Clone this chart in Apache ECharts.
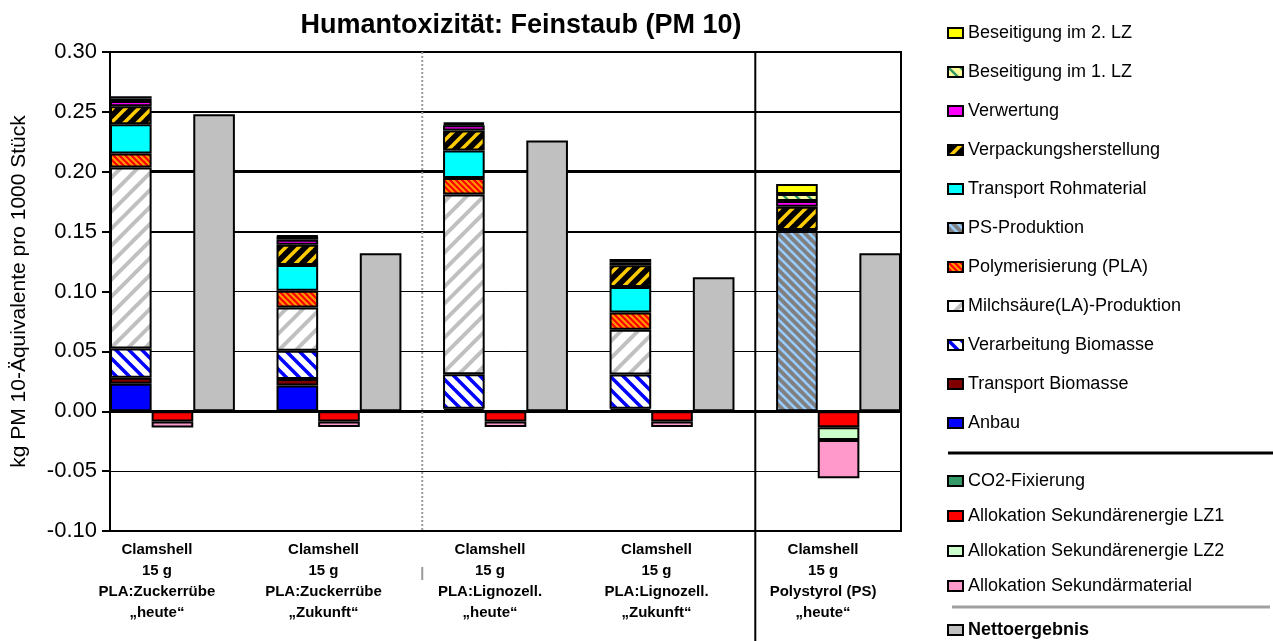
<!DOCTYPE html>
<html>
<head>
<meta charset="utf-8">
<script src="https://cdn.jsdelivr.net/npm/echarts@6/dist/echarts.min.js"></script>
<style>html,body{margin:0;padding:0;background:#fff}#c{width:1273px;height:641px}</style>
</head>
<body>
<div id="c"></div>
<script>
// ---- data ----
const groupLabels = [
  'Clamshell\n15 g\nPLA:Zuckerrübe\n„heute“',
  'Clamshell\n15 g\nPLA:Zuckerrübe\n„Zukunft“',
  'Clamshell\n15 g\nPLA:Lignozell.\n„heute“',
  'Clamshell\n15 g\nPLA:Lignozell.\n„Zukunft“',
  'Clamshell\n15 g\nPolystyrol (PS)\n„heute“'
];
const yTicks = [-0.10, -0.05, 0.00, 0.05, 0.10, 0.15, 0.20, 0.25, 0.30];

const anbau            = [0.023, 0.0215, 0.0005, 0.0005, 0];
const transportBiomasse= [0.005, 0.0055, 0.0015, 0.0015, 0];
const verarbeitung     = [0.0245, 0.0236, 0.029, 0.0286, 0];
const milchsaeure      = [0.151, 0.036, 0.150, 0.0374, 0];
const polymerisierung  = [0.0117, 0.014, 0.0138, 0.0145, 0];
const psProduktion     = [0, 0, 0, 0, 0.1505];
const transportRoh     = [0.0245, 0.0215, 0.023, 0.0212, 0.0008];
const verpackung       = [0.015, 0.017, 0.0166, 0.0183, 0.0195];
const verwertung       = [0.0044, 0.0042, 0.0045, 0.0025, 0.0047];
const beseitigung1     = [0.002, 0.0027, 0.001, 0.0027, 0.006];
const beseitigung2     = [0.002, 0.0005, 0.001, 0, 0.0083];
const co2Fixierung     = [0, 0, 0, 0, 0];
const alloEnergieLZ1   = [-0.0085, -0.0085, -0.0085, -0.0085, -0.0133];
const alloEnergieLZ2   = [0, 0, 0, 0, -0.0108];
const alloMaterial     = [-0.005, -0.0047, -0.0047, -0.0047, -0.0319];
const netto            = [0.248, 0.132, 0.226, 0.112, 0.132];

// ---- helpers ----
const NG = groupLabels.length;
const NS = NG * 4 - 1; // stacked, negative, net, gap per group
const slots = Array.from({length: NS}, (_, i) => 's' + i);
function place(values, offset) {
  const arr = new Array(NS).fill('-');
  values.forEach((v, g) => { if (v !== 0) arr[g * 4 + offset] = v; });
  return arr;
}
function stripes(bg, fg, size, width, dir) {
  const c = document.createElement('canvas');
  c.width = c.height = size;
  const x = c.getContext('2d');
  x.fillStyle = bg; x.fillRect(0, 0, size, size);
  x.strokeStyle = fg; x.lineWidth = width; x.lineCap = 'square';
  for (let k = -1; k <= 1; k++) {
    x.beginPath();
    if (dir === '/') { x.moveTo(k * size, size); x.lineTo(k * size + size, 0); }
    else { x.moveTo(k * size, 0); x.lineTo(k * size + size, size); }
    x.stroke();
  }
  return { image: c, repeat: 'repeat' };
}

const FONT = '"Liberation Sans", Arial, sans-serif';
const posDefs = [
  ['Anbau', anbau, '#0000FF'],
  ['Transport Biomasse', transportBiomasse, '#800000'],
  ['Verarbeitung Biomasse', verarbeitung, stripes('#FFFFFF', '#0000FF', 13, 3.5, '\\')],
  ['Milchsäure(LA)-Produktion', milchsaeure, stripes('#FFFFFF', '#C0C0C0', 17, 4, '/')],
  ['Polymerisierung (PLA)', polymerisierung, stripes('#FF9900', '#FF0000', 6, 2.2, '\\')],
  ['PS-Produktion', psProduktion, stripes('#808080', '#99CCFF', 9, 2.6, '\\')],
  ['Transport Rohmaterial', transportRoh, '#00FFFF'],
  ['Verpackungsherstellung', verpackung, stripes('#000000', '#FFCC00', 13, 3.5, '/')],
  ['Verwertung', verwertung, '#FF00FF'],
  ['Beseitigung im 1. LZ', beseitigung1, stripes('#FFFF99', '#339966', 12, 2.5, '\\')],
  ['Beseitigung im 2. LZ', beseitigung2, '#FFFF00']
];
const negDefs = [
  ['CO2-Fixierung', co2Fixierung, '#339966'],
  ['Allokation Sekundärenergie LZ1', alloEnergieLZ1, '#FF0000'],
  ['Allokation Sekundärenergie LZ2', alloEnergieLZ2, '#CCFFCC'],
  ['Allokation Sekundärmaterial', alloMaterial, '#FF99CC']
];
const netDefs = [['Nettoergebnis', netto, '#C0C0C0']];

function mk(def, offset) {
  return {
    name: def[0], type: 'bar', stack: 'all', data: place(def[1], offset),
    barWidth: '100%', barCategoryGap: '0%',
    itemStyle: { color: def[2], borderColor: '#000', borderWidth: 2 },
    emphasis: { disabled: true }, z: 2
  };
}
const series = [];
posDefs.forEach(d => series.push(mk(d, 0)));
negDefs.forEach(d => series.push(mk(d, 1)));
netDefs.forEach(d => series.push(mk(d, 2)));

// gridlines (weights from the reference)
function gridWeight(v) {
  const r = Math.round(v * 100);
  if (r === 20 || r === 0) return 3;
  if (r === 25 || r === 15 || r === 30) return 2;
  return 1;
}
series.push({
  type: 'line', data: [], silent: true,
  markLine: {
    silent: true, symbol: 'none', z: 1, label: { show: false },
    data: yTicks.map(v => ({ yAxis: v, lineStyle: { color: '#000', type: 'solid', width: gridWeight(v) } }))
  }
});

const legendText = { fontFamily: FONT, fontSize: 18, color: '#000', lineHeight: 22 };
const legendBase = {
  orient: 'vertical', left: 947, padding: 0, icon: 'rect',
  itemWidth: 15, itemHeight: 10, selectedMode: false, textStyle: legendText
};

const chart = echarts.init(document.getElementById('c'), null, { renderer: 'canvas' });
chart.setOption({
  animation: false,
  backgroundColor: '#fff',
  title: {
    text: 'Humantoxizität: Feinstaub (PM 10)', left: 516, top: 7, textAlign: 'center',
    textStyle: { fontFamily: FONT, fontSize: 27, fontWeight: 'bold', color: '#000' }
  },
  grid: { left: 110, right: 372, top: 52, bottom: 110, show: true, borderColor: '#000', borderWidth: 2, containLabel: false },
  xAxis: {
    type: 'category', data: slots,
    axisLine: { show: true, onZero: false, lineStyle: { color: '#000', width: 2 } },
    axisTick: { show: false },
    splitLine: { show: false },
    axisLabel: {
      interval: 0, margin: 8, color: '#000', fontFamily: FONT, fontSize: 15, fontWeight: 'bold',
      lineHeight: 21, padding: [0, 31, 0, 0],
      formatter: (v, i) => (i % 4 === 1 ? groupLabels[(i - 1) / 4] : '')
    }
  },
  yAxis: {
    type: 'value', min: -0.1, max: 0.3, interval: 0.05,
    name: 'kg PM 10-Äquivalente pro 1000 Stück', nameLocation: 'middle', nameGap: 80,
    nameTextStyle: { fontFamily: FONT, fontSize: 21, color: '#000' },
    axisLine: { show: true, lineStyle: { color: '#000', width: 2 } },
    axisTick: { show: true, length: 8, lineStyle: { color: '#000', width: 2 } },
    axisLabel: { color: '#000', fontFamily: FONT, fontSize: 22, margin: 13, formatter: v => v.toFixed(2) },
    splitLine: { show: true, lineStyle: { color: '#000', width: 1 } }
  },
  legend: [
    Object.assign({}, legendBase, { top: 22, itemGap: 17, data: posDefs.map(d => d[0]).reverse() }),
    Object.assign({}, legendBase, { top: 470, itemGap: 13, data: negDefs.map(d => d[0]) }),
    Object.assign({}, legendBase, { top: 619, itemGap: 13, data: netDefs.map(d => d[0]),
      textStyle: Object.assign({}, legendText, { fontWeight: 'bold' }) })
  ],
  series: series
});

// decorative separators
const xDot = chart.convertToPixel({ xAxisIndex: 0 }, slots[7]);
const xSolid = chart.convertToPixel({ xAxisIndex: 0 }, slots[15]);
const yTop = chart.convertToPixel({ yAxisIndex: 0 }, 0.3);
const yBot = chart.convertToPixel({ yAxisIndex: 0 }, -0.1);
chart.setOption({
  graphic: [
    { type: 'line', z: 10, shape: { x1: xDot, y1: yTop, x2: xDot, y2: yBot }, style: { stroke: '#9a9a9a', lineWidth: 2, lineDash: [2, 2] } },
    { type: 'line', z: 10, shape: { x1: xDot, y1: yBot + 36, x2: xDot, y2: yBot + 49 }, style: { stroke: '#9a9a9a', lineWidth: 2 } },
    { type: 'line', z: 10, shape: { x1: xSolid, y1: yTop, x2: xSolid, y2: 641 }, style: { stroke: '#000', lineWidth: 2 } },
    { type: 'line', z: 10, shape: { x1: 948, y1: 453, x2: 1273, y2: 453 }, style: { stroke: '#000', lineWidth: 3 } },
    { type: 'line', z: 10, shape: { x1: 952, y1: 607, x2: 1270, y2: 607 }, style: { stroke: '#a0a0a0', lineWidth: 3 } }
  ]
});
</script>
</body>
</html>
